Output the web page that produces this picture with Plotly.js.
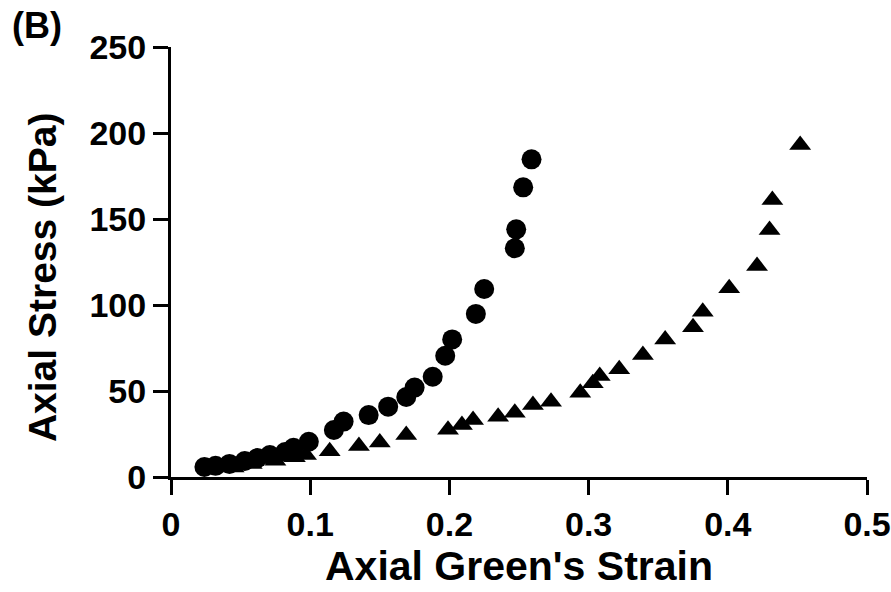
<!DOCTYPE html>
<html>
<head>
<meta charset="utf-8">
<script src="https://cdn.plot.ly/plotly-3.0.1.min.js"></script>
<style>html,body{margin:0;padding:0;background:#fff;}#chart{width:891px;height:592px;}</style>
</head>
<body>
<div id="chart"></div>
<script>
// Circles series
const circleStrain = [0.024, 0.032, 0.042, 0.053, 0.062, 0.071, 0.082, 0.088, 0.099, 0.117, 0.124, 0.142, 0.156, 0.169, 0.175, 0.188, 0.197, 0.202, 0.219, 0.225, 0.247, 0.248, 0.253, 0.259];
const circleStress = [5.8, 6.5, 7.6, 9.3, 11, 12.8, 14.5, 17, 20.5, 27.3, 32.2, 36, 40.9, 46.5, 52, 58.3, 70.5, 80, 94.8, 109.3, 133, 144, 168.4, 184.7];
// Triangles series
const triStrain = [0.045, 0.058, 0.075, 0.089, 0.097, 0.114, 0.135, 0.150, 0.169, 0.199, 0.209, 0.217, 0.235, 0.247, 0.260, 0.273, 0.294, 0.303, 0.308, 0.322, 0.339, 0.355, 0.375, 0.382, 0.401, 0.421, 0.430, 0.432, 0.452];
const triStress = [5.5, 7.5, 9.5, 11.5, 12.8, 15, 18, 20, 24.4, 27.5, 30.2, 33.1, 35.1, 37.4, 41.9, 43.8, 49, 54.5, 58.7, 62.6, 70.9, 80, 87, 96.1, 109.7, 122.7, 143.6, 161, 193];
// Tick labels
const xTickVals = [0, 0.1, 0.2, 0.3, 0.4, 0.5];
const xTickText = ['0', '0.1', '0.2', '0.3', '0.4', '0.5'];
const yTickVals = [0, 50, 100, 150, 200, 250];
const yTickText = ['0', '50', '100', '150', '200', '250'];
const xTitle = "Axial Green's Strain";
const yTitle = 'Axial Stress (kPa)';
const panelLabel = '(B)';

const FONT = 'Liberation Sans, Arial, Helvetica, sans-serif';

const traces = [
  {x: circleStrain, y: circleStress, type: 'scatter', mode: 'markers', name: 'circles',
   marker: {symbol: 'circle', size: 20, color: '#000'}, cliponaxis: false},
  {x: triStrain, y: triStress, type: 'scatter', mode: 'markers', name: 'triangles',
   marker: {symbol: 'triangle-up', size: 19, color: '#000'}, cliponaxis: false}
];

const layout = {
  width: 891, height: 592,
  margin: {l: 171, r: 24, t: 47, b: 115},
  paper_bgcolor: '#fff', plot_bgcolor: '#fff',
  showlegend: false,
  font: {family: FONT, color: '#000', weight: 'bold'},
  xaxis: {
    range: [0, 0.5], tickvals: xTickVals, ticktext: xTickText,
    showgrid: false, zeroline: false, showline: true, linecolor: '#000', linewidth: 3,
    ticks: 'outside', ticklen: 15, tickwidth: 3, tickcolor: '#000',
    tickfont: {family: FONT, size: 34, color: '#000', weight: 'bold'},
    title: {text: xTitle, font: {family: FONT, size: 41, color: '#000', weight: 'bold'}, standoff: 2},
    automargin: false
  },
  yaxis: {
    range: [0, 250], tickvals: yTickVals, ticktext: yTickText,
    showgrid: false, zeroline: false, showline: true, linecolor: '#000', linewidth: 3,
    ticks: 'outside', ticklen: 15, tickwidth: 3, tickcolor: '#000',
    tickfont: {family: FONT, size: 34, color: '#000', weight: 'bold'},
    automargin: false
  },
  annotations: [
    {text: panelLabel, xref: 'paper', yref: 'paper', x: -0.232, y: 1.103,
     xanchor: 'left', yanchor: 'top', showarrow: false,
     font: {family: FONT, size: 36, color: '#000', weight: 'bold'}},
    {text: yTitle, xref: 'paper', yref: 'paper', x: -0.1853, y: 0.465,
     xanchor: 'center', yanchor: 'middle', textangle: -90, showarrow: false,
     font: {family: FONT, size: 39, color: '#000', weight: 'bold'}}
  ]
};

Plotly.newPlot('chart', traces, layout, {displayModeBar: false, staticPlot: true});
</script>
</body>
</html>
